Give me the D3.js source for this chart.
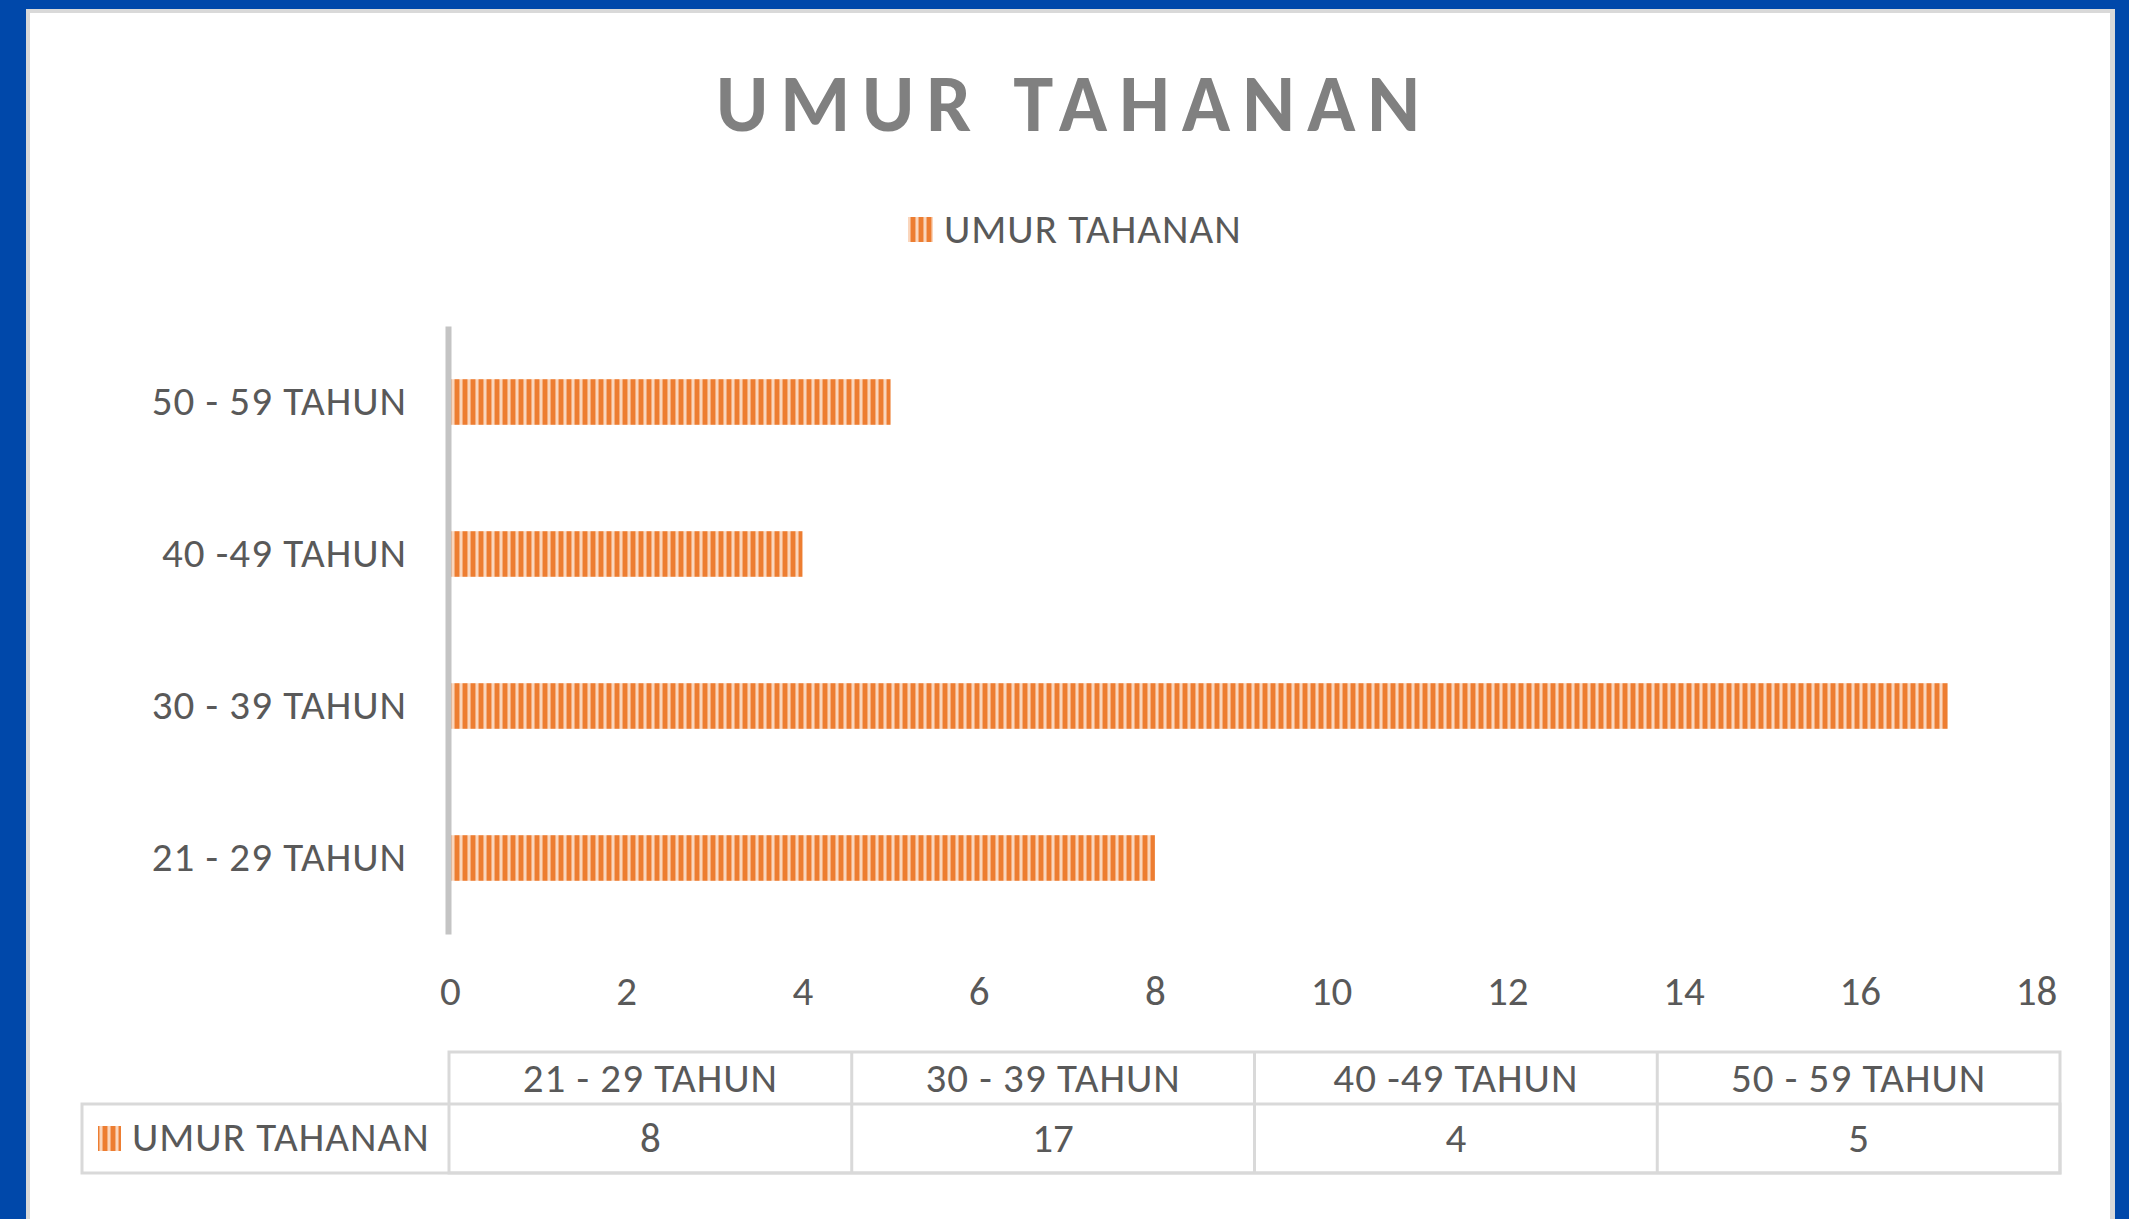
<!DOCTYPE html>
<html>
<head>
<meta charset="utf-8">
<script src="https://cdn.jsdelivr.net/npm/d3@7"></script>
<style>
  body { margin: 0; background: #0048aa; }
  svg { display: block; }
  text { font-family: Carlito, Calibri, Lato, sans-serif; fill: #595959; }
</style>
</head>
<body>
<div class="canvas"></div>
<script>
// data
const categories = ['21 - 29 TAHUN', '30 - 39 TAHUN', '40 -49 TAHUN', '50 - 59 TAHUN']
const values = [8, 17, 4, 5]
const seriesName = 'UMUR TAHANAN'
const chartTitle = 'UMUR TAHANAN'
const xTicks = [0, 2, 4, 6, 8, 10, 12, 14, 16, 18]

const width = 2129
const height = 1219
const orange = '#ed7d31'
const fontSize = 41
const spacing = 1

const svg = d3.select('.canvas')
    .append('svg')
    .attr('width', width)
    .attr('height', height)

// stripe pattern for the bars
const defs = svg.append('defs')
const pat = defs.append('pattern')
    .attr('id', 'stripes')
    .attr('patternUnits', 'userSpaceOnUse')
    .attr('width', 8)
    .attr('height', 8)
pat.append('rect').attr('width', 8).attr('height', 8).attr('fill', orange)
pat.append('rect').attr('x', 3).attr('width', 1).attr('height', 8).attr('fill', '#f4ad7c')
pat.append('rect').attr('x', 4).attr('width', 2).attr('height', 8).attr('fill', '#fad6bd')
pat.append('rect').attr('x', 6).attr('width', 1).attr('height', 8).attr('fill', '#f4ad7c')

// frame
svg.append('rect').attr('width', width).attr('height', height).attr('fill', '#0048aa')
svg.append('rect').attr('x', 26).attr('y', 9).attr('width', 2089).attr('height', 1260).attr('fill', '#d9d9d9')
svg.append('rect').attr('x', 30).attr('y', 13).attr('width', 2080).attr('height', 1260).attr('fill', '#fff')

// title
svg.append('text')
    .attr('x', 1068 + 6)
    .attr('y', 131)
    .attr('text-anchor', 'middle')
    .attr('font-size', 80)
    .attr('font-weight', 700)
    .attr('letter-spacing', 12)
    .style('fill', '#808080')
    .text(chartTitle)

// legend
svg.append('rect')
    .attr('x', 908).attr('y', 217).attr('width', 25).attr('height', 25)
    .attr('fill', 'url(#stripes)')
svg.append('text')
    .attr('x', 944).attr('y', 243)
    .attr('font-size', fontSize)
    .attr('letter-spacing', spacing)
    .text(seriesName)

const xScale = d3.scaleLinear().domain([0, 18]).range([450, 2036])
const yScale = d3.scaleBand()
    .domain(categories)
    .range([934, 326])
    .paddingInner(0.7)
    .paddingOuter(0.35)

// bars
svg.append('g')
    .selectAll('rect')
    .data(categories)
    .enter()
    .append('rect')
        .attr('x', xScale(0))
        .attr('y', d => yScale(d))
        .attr('width', (d, i) => xScale(values[i]) - xScale(0))
        .attr('height', yScale.bandwidth())
        .attr('fill', 'url(#stripes)')

// y axis
const yAxisGroup = svg.append('g')
    .attr('transform', 'translate(448, 0)')
    .call(d3.axisLeft(yScale).tickSize(0).tickPadding(41))
yAxisGroup.select('.domain').attr('stroke', '#c4c4c4').attr('stroke-width', 6)
yAxisGroup.selectAll('text')
    .attr('font-size', fontSize)
    .attr('letter-spacing', spacing)
    .attr('font-family', null)
    .attr('fill', null)

// x axis (labels only)
const xAxisGroup = svg.append('g')
    .attr('transform', 'translate(0, 1005)')
    .call(d3.axisBottom(xScale).tickValues(xTicks).tickSize(0))
xAxisGroup.select('.domain').remove()
xAxisGroup.selectAll('text')
    .attr('y', 0)
    .attr('dy', 0)
    .attr('font-size', fontSize)
    .attr('font-family', null)
    .attr('fill', null)

// data table
const colScale = d3.scaleBand().domain(categories).range([449, 2060])
const tableTop = 1052
const rowSplit = 1104
const tableBottom = 1173
const labelLeft = 82
const lineColor = '#d9d9d9'

const table = svg.append('g')
    .attr('fill', 'none')
    .attr('stroke', lineColor)
    .attr('stroke-width', 3)

table.append('rect')
    .attr('x', colScale.range()[0])
    .attr('y', tableTop)
    .attr('width', colScale.range()[1] - colScale.range()[0])
    .attr('height', tableBottom - tableTop)
table.append('rect')
    .attr('x', labelLeft)
    .attr('y', rowSplit)
    .attr('width', colScale.range()[1] - labelLeft)
    .attr('height', tableBottom - rowSplit)
table.selectAll('line.col')
    .data(categories.slice(1))
    .enter()
    .append('line')
        .attr('class', 'col')
        .attr('x1', d => colScale(d))
        .attr('x2', d => colScale(d))
        .attr('y1', tableTop)
        .attr('y2', tableBottom)

svg.append('g')
    .selectAll('text')
    .data(categories)
    .enter()
    .append('text')
        .attr('x', d => colScale(d) + colScale.bandwidth() / 2)
        .attr('y', 1092)
        .attr('text-anchor', 'middle')
        .attr('font-size', fontSize)
        .attr('letter-spacing', spacing)
        .text(d => d)

svg.append('g')
    .selectAll('text')
    .data(values)
    .enter()
    .append('text')
        .attr('x', (d, i) => colScale(categories[i]) + colScale.bandwidth() / 2)
        .attr('y', 1152)
        .attr('text-anchor', 'middle')
        .attr('font-size', fontSize)
        .text(d => d)

svg.append('rect')
    .attr('x', 98).attr('y', 1126).attr('width', 23).attr('height', 25)
    .attr('fill', 'url(#stripes)')
svg.append('text')
    .attr('x', 132).attr('y', 1151)
    .attr('font-size', fontSize)
    .attr('letter-spacing', spacing)
    .text(seriesName)
</script>
</body>
</html>
